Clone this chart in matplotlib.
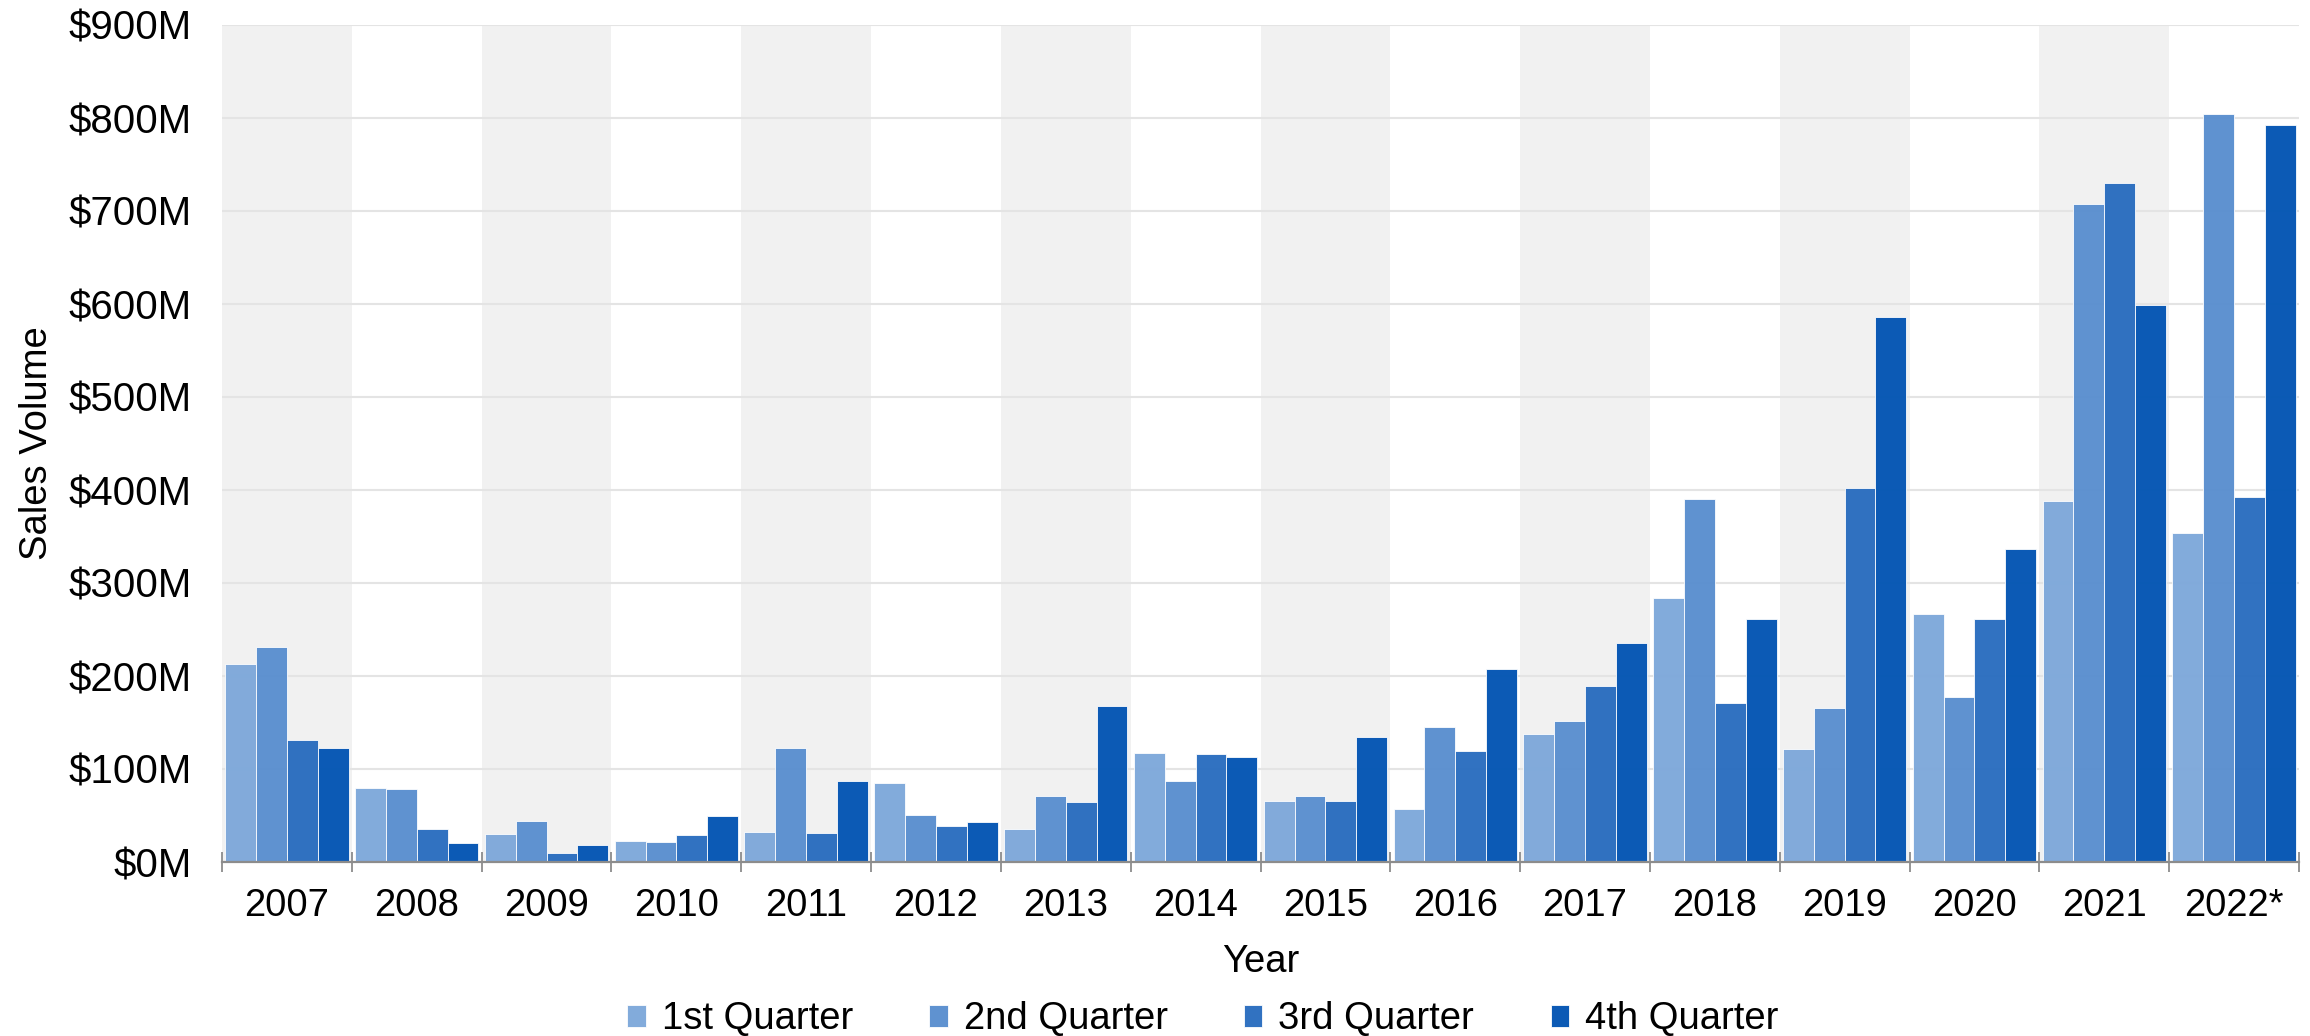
import numpy as np
import matplotlib
matplotlib.use('Agg')
from matplotlib import pyplot as plt
from matplotlib.ticker import FuncFormatter, FixedLocator

plt.rcParams['font.family'] = ['Liberation Sans', 'DejaVu Sans']

years = ['2007', '2008', '2009', '2010', '2011', '2012', '2013', '2014',
         '2015', '2016', '2017', '2018', '2019', '2020', '2021', '2022*']
# sales volume in $M per quarter
q1 = [213, 80, 30, 23, 32, 85, 35, 117, 66, 57, 138, 284, 122, 267, 388, 354]
q2 = [231, 78, 44, 21, 123, 51, 71, 87, 71, 145, 152, 390, 166, 177, 707, 804]
q3 = [131, 36, 10, 29, 31, 39, 65, 116, 66, 119, 189, 171, 402, 261, 730, 393]
q4 = [123, 20, 18, 49, 87, 43, 168, 113, 134, 207, 235, 261, 586, 337, 599, 793]
labels = ['1st Quarter', '2nd Quarter', '3rd Quarter', '4th Quarter']
colors = ['#7ea8da', '#5a8fcf', '#2a6dbf', '#0455b3']

fig = plt.figure(figsize=(23.1, 10.36), dpi=100)
ax = fig.add_axes([222/2310, 1-862/1036, (2299-222)/2310, (862-25)/1036])

x = np.arange(len(years))
n = len(years)
w = 0.2375

# alternating grey bands behind each year
for i in range(0, n, 2):
    ax.axvspan(i-0.5, i+0.5, color='#f1f1f1', zorder=0, lw=0)

for k, (vals, c, lab) in enumerate(zip([q1, q2, q3, q4], colors, labels)):
    ax.bar(x + (k-1.5)*w, vals, w, color=c, label=lab, alpha=0.97,
           edgecolor=(1, 1, 1, 0.5), linewidth=0.6, zorder=3)

ax.set_xlim(-0.5, n-0.5)
ax.set_ylim(0, 900)
ax.set_yticks(np.arange(0, 901, 100))
ax.yaxis.set_major_formatter(FuncFormatter(lambda v, p: '${:.0f}M'.format(v)))
ax.grid(axis='y', color='#e4e4e4', linewidth=1.5, zorder=1)
ax.set_axisbelow(True)

ax.xaxis.set_major_locator(FixedLocator(np.arange(-0.5, n, 1.0)))
ax.xaxis.set_minor_locator(FixedLocator(x))
ax.set_xticklabels([], minor=False)
ax.set_xticklabels(years, minor=True)
ax.tick_params(axis='x', which='major', direction='inout', length=15,
               width=1.3, color='#8c8c8c')
ax.tick_params(axis='x', which='minor', direction='in', length=5,
               width=1.3, color='#8c8c8c', labelsize=27.5, pad=19)
ax.tick_params(axis='y', length=0, labelsize=29, pad=22)

for s in ['top', 'right', 'left']:
    ax.spines[s].set_visible(False)
ax.spines['bottom'].set_color('#8c8c8c')
ax.spines['bottom'].set_linewidth(1.6)
ax.spines['bottom'].set_zorder(4)

ax.set_xlabel('Year', fontsize=27.5, labelpad=14)
ax.set_ylabel('Sales Volume', fontsize=27.5)
ax.yaxis.set_label_coords(-0.0805, 0.5)

fig.legend(loc='center', bbox_to_anchor=(0.5207, 0.016), ncol=4, frameon=False,
           fontsize=27.5, handlelength=0.48, handleheight=0.5, handletextpad=0.42,
           columnspacing=2.0, borderpad=0)

plt.savefig('out.png', dpi=100)
